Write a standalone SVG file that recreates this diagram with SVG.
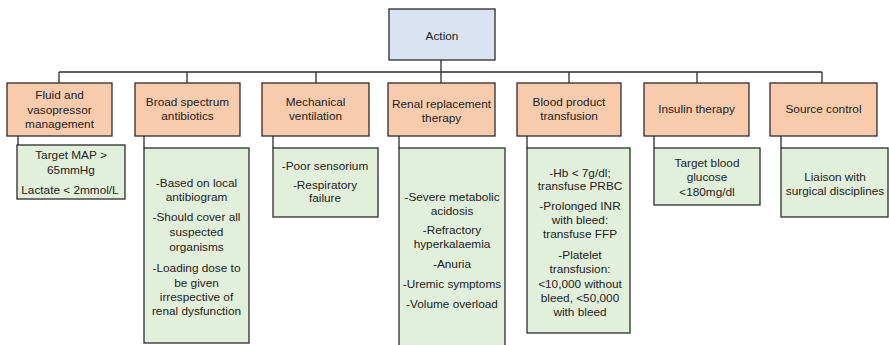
<svg xmlns="http://www.w3.org/2000/svg" width="889" height="345" viewBox="0 0 889 345">
  <style>
    .root { fill: #DAE3F3; stroke: #2b2b2b; stroke-width: 1.3; }
    .act { fill: #F8CBAD; stroke: #2b2b2b; stroke-width: 1.3; }
    .det { fill: #E2EFDA; stroke: #2b2b2b; stroke-width: 1.3; }
    .wire { fill: none; stroke: #2b2b2b; stroke-width: 1.3; }
    text { font-family: "Liberation Sans", Arial, sans-serif; font-size: 11.8px; fill: #222; text-anchor: middle; }
  </style>

  <!-- connectors -->
  <g id="connectors" class="wire">
    <path d="M441 60 V72 M59 72 H822"/>
    <path d="M59 72 V83 M187 72 V83 M316 72 V83 M441 72 V83 M569 72 V83 M697 72 V83 M822 72 V83"/>
    <path d="M18 136 V145 M144 136 V148 M273 136 V148 M399 136 V148 M527 136 V148 M654 136 V148 M781 136 V148"/>
  </g>

  <!-- root -->
  <g id="action">
    <rect class="root" x="389" y="9" width="106" height="51"/>
    <text x="442" y="40">Action</text>
  </g>

  <!-- action categories -->
  <g id="fluid">
    <rect class="act" x="7" y="83" width="105" height="53"/>
    <text x="59.5" y="99">Fluid and</text>
    <text x="59.5" y="114">vasopressor</text>
    <text x="59.5" y="128">management</text>
  </g>
  <g id="antibiotics">
    <rect class="act" x="135" y="83" width="105" height="53"/>
    <text x="187.5" y="106">Broad spectrum</text>
    <text x="187.5" y="120">antibiotics</text>
  </g>
  <g id="ventilation">
    <rect class="act" x="262" y="83" width="107" height="53"/>
    <text x="315.5" y="106">Mechanical</text>
    <text x="315.5" y="120">ventilation</text>
  </g>
  <g id="renal">
    <rect class="act" x="388" y="83" width="107" height="53"/>
    <text x="441.5" y="108">Renal replacement</text>
    <text x="441.5" y="122">therapy</text>
  </g>
  <g id="blood">
    <rect class="act" x="517" y="83" width="104" height="53"/>
    <text x="569" y="106">Blood product</text>
    <text x="569" y="120">transfusion</text>
  </g>
  <g id="insulin">
    <rect class="act" x="644" y="83" width="105" height="53"/>
    <text x="696.5" y="113">Insulin therapy</text>
  </g>
  <g id="source">
    <rect class="act" x="770" y="83" width="107" height="53"/>
    <text x="823.5" y="113">Source control</text>
  </g>

  <!-- details -->
  <g id="fluid-detail">
    <rect class="det" x="17" y="145" width="108" height="54"/>
    <text x="71" y="159">Target MAP &gt;</text>
    <text x="71" y="174">65mmHg</text>
    <text x="70" y="194">Lactate &lt; 2mmol/L</text>
  </g>
  <g id="antibiotics-detail">
    <rect class="det" x="144" y="148" width="105" height="195"/>
    <text x="196.5" y="187">-Based on local</text>
    <text x="196.5" y="201">antibiogram</text>
    <text x="196.5" y="221">-Should cover all</text>
    <text x="196.5" y="236">suspected</text>
    <text x="196.5" y="251">organisms</text>
    <text x="196.5" y="272">-Loading dose to</text>
    <text x="196.5" y="287">be given</text>
    <text x="196.5" y="301">irrespective of</text>
    <text x="196.5" y="315">renal dysfunction</text>
  </g>
  <g id="ventilation-detail">
    <rect class="det" x="273" y="148" width="105" height="69"/>
    <text x="325" y="170">-Poor sensorium</text>
    <text x="325" y="189">-Respiratory</text>
    <text x="325" y="202">failure</text>
  </g>
  <g id="renal-detail">
    <rect class="det" x="399" y="148" width="106" height="205"/>
    <text x="452" y="201">-Severe metabolic</text>
    <text x="452" y="215">acidosis</text>
    <text x="452" y="234">-Refractory</text>
    <text x="452" y="248">hyperkalaemia</text>
    <text x="452" y="268">-Anuria</text>
    <text x="452" y="288">-Uremic symptoms</text>
    <text x="452" y="308">-Volume overload</text>
  </g>
  <g id="blood-detail">
    <rect class="det" x="527" y="148" width="103" height="185"/>
    <text x="580" y="177">-Hb &lt; 7g/dl;</text>
    <text x="580" y="190">transfuse PRBC</text>
    <text x="580" y="210">-Prolonged INR</text>
    <text x="580" y="224">with bleed:</text>
    <text x="580" y="238">transfuse FFP</text>
    <text x="580" y="259">-Platelet</text>
    <text x="580" y="273">transfusion:</text>
    <text x="580" y="288">&lt;10,000 without</text>
    <text x="580" y="302">bleed, &lt;50,000</text>
    <text x="580" y="316">with bleed</text>
  </g>
  <g id="insulin-detail">
    <rect class="det" x="654" y="148" width="106" height="57"/>
    <text x="707" y="167">Target blood</text>
    <text x="707" y="181">glucose</text>
    <text x="707" y="196">&lt;180mg/dl</text>
  </g>
  <g id="source-detail">
    <rect class="det" x="781" y="148" width="107" height="69"/>
    <text x="835" y="181">Liaison with</text>
    <text x="835" y="195">surgical disciplines</text>
  </g>
</svg>
